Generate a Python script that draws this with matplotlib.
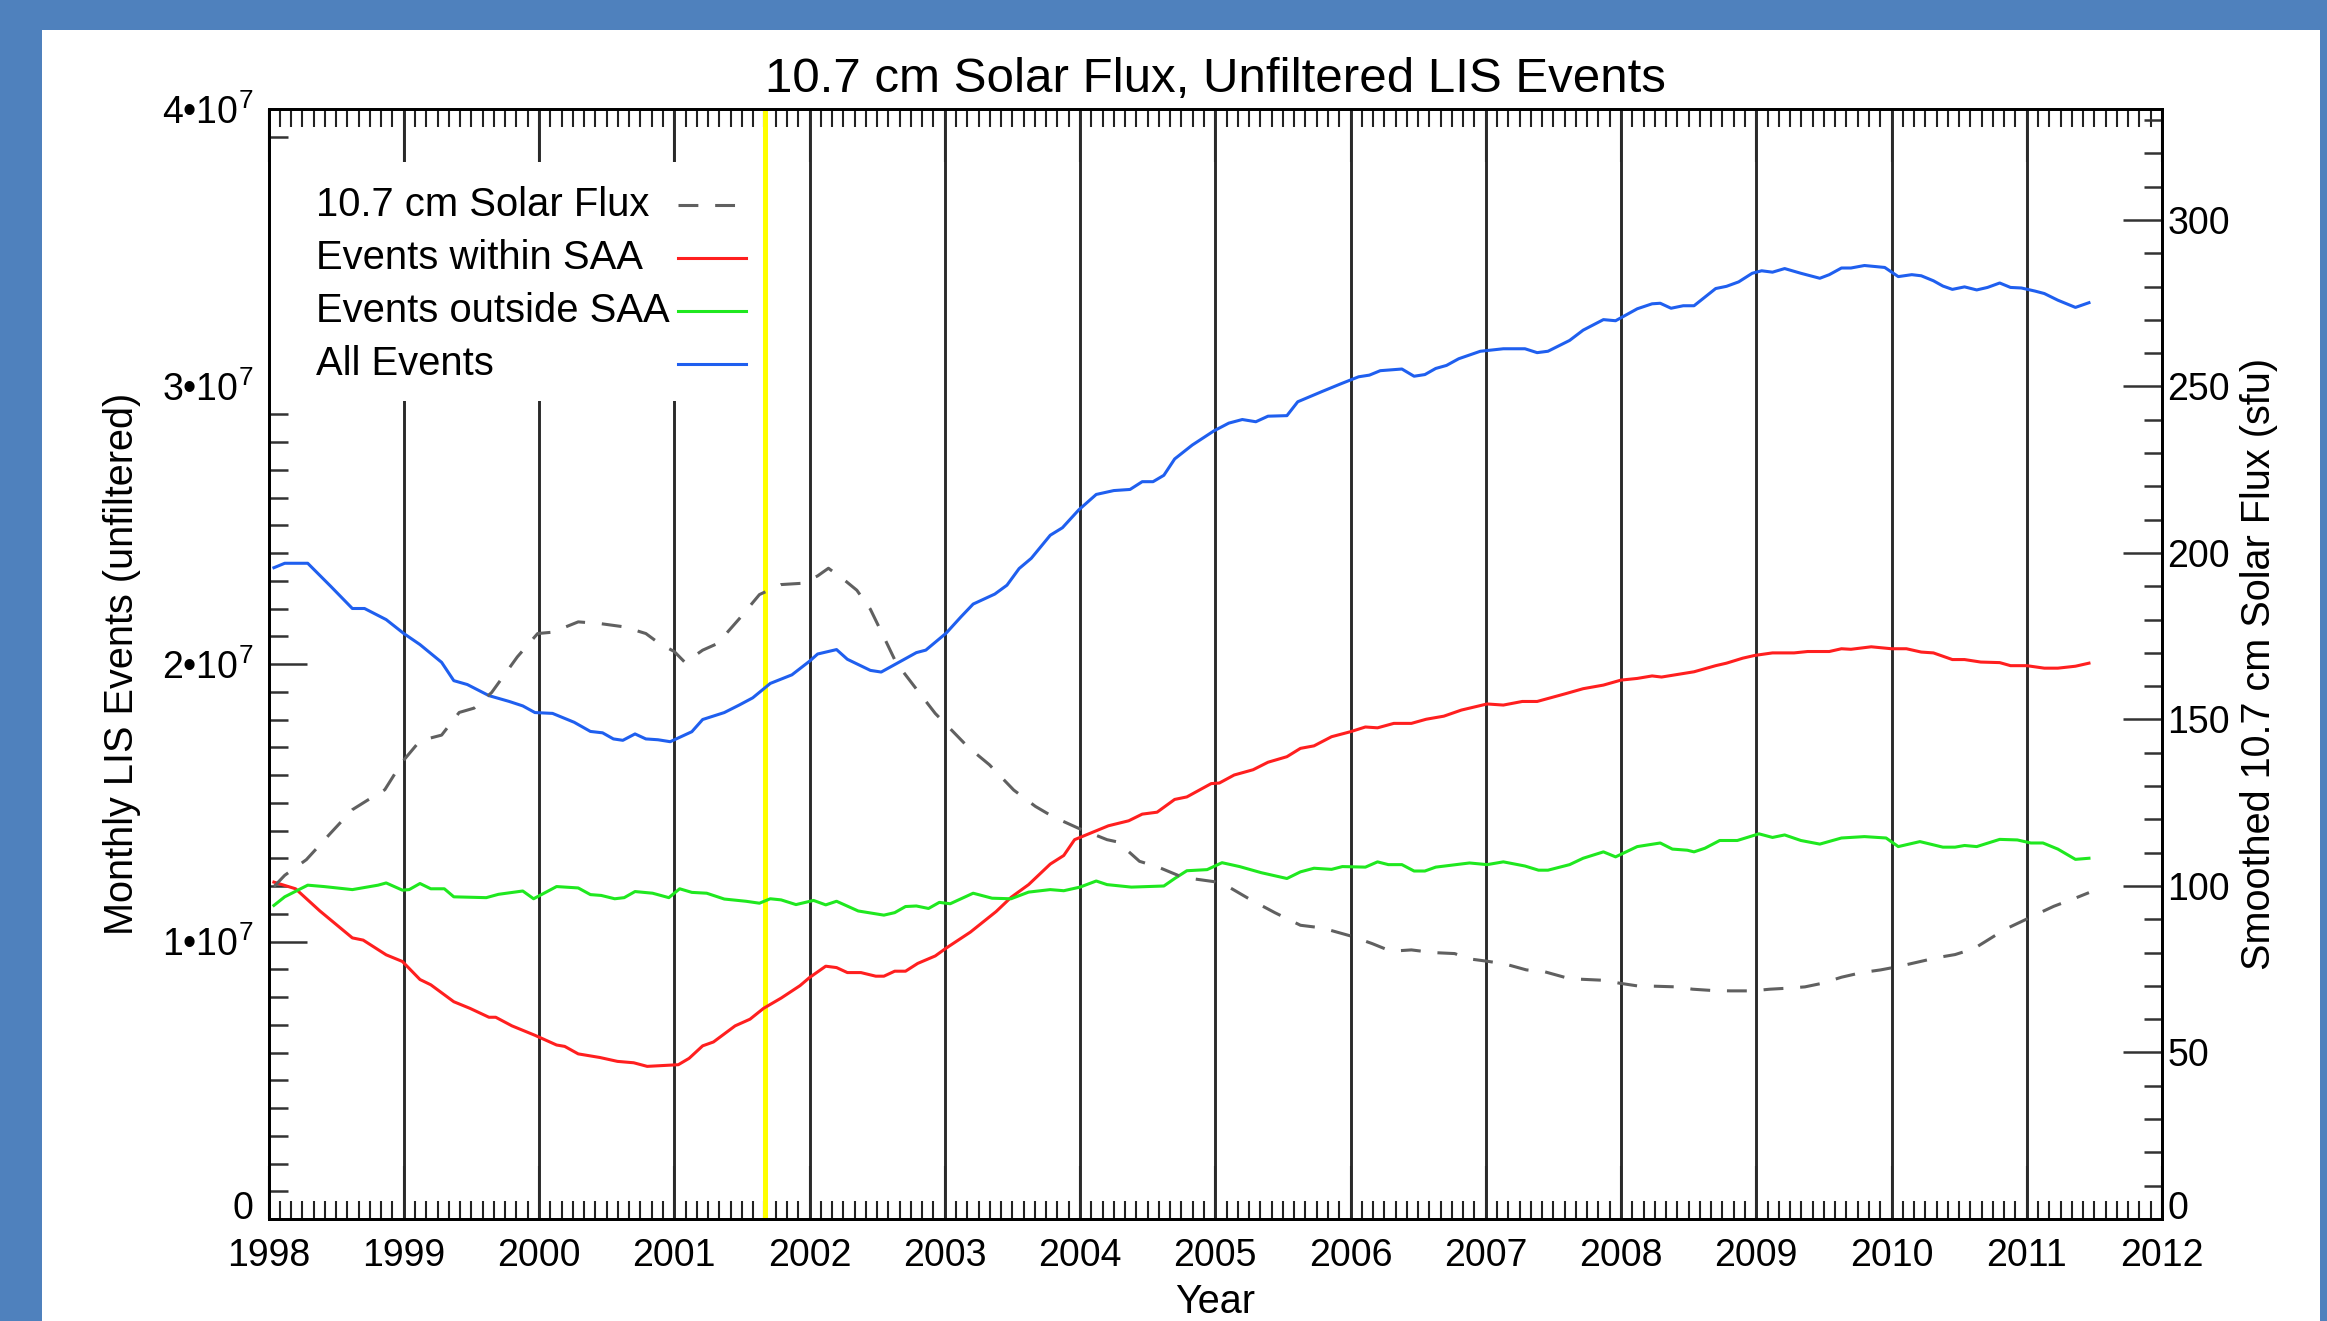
import matplotlib
matplotlib.use('Agg')
import matplotlib.pyplot as plt
import numpy as np
from matplotlib.patches import Rectangle
from matplotlib.lines import Line2D
from matplotlib.ticker import MultipleLocator, FuncFormatter

plt.rcParams['font.family'] = ['Liberation Sans', 'DejaVu Sans']
plt.rcParams['mathtext.fontset'] = 'custom'
plt.rcParams['mathtext.rm'] = 'Liberation Sans'
plt.rcParams['mathtext.it'] = 'Liberation Sans:italic'
plt.rcParams['mathtext.default'] = 'regular'

# ---- data (events in units of 1e7, flux in sfu) ----
blue_t = [1998.04, 1998.12, 1998.29, 1998.46, 1998.62, 1998.71, 1998.87, 1999.00, 1999.12, 1999.28,
          1999.37, 1999.47, 1999.63, 1999.78, 1999.88, 1999.97, 2000.10, 2000.26, 2000.38, 2000.47,
          2000.55, 2000.62, 2000.71, 2000.79, 2000.88, 2000.97, 2001.13, 2001.21, 2001.37, 2001.48,
          2001.58, 2001.71, 2001.87, 2002.00, 2002.06, 2002.20, 2002.28, 2002.45, 2002.53, 2002.69,
          2002.79, 2002.86, 2003.01, 2003.12, 2003.21, 2003.37, 2003.46, 2003.55, 2003.64, 2003.78,
          2003.87, 2003.99, 2004.12, 2004.25, 2004.37, 2004.46, 2004.54, 2004.62, 2004.70, 2004.83,
          2004.99, 2005.10, 2005.20, 2005.30, 2005.39, 2005.53, 2005.61, 2005.79, 2005.93, 2006.06,
          2006.14, 2006.22, 2006.38, 2006.47, 2006.55, 2006.63, 2006.71, 2006.80, 2006.96, 2007.13,
          2007.29, 2007.38, 2007.46, 2007.62, 2007.72, 2007.87, 2007.96, 2008.12, 2008.23, 2008.29,
          2008.37, 2008.46, 2008.54, 2008.70, 2008.78, 2008.87, 2008.97, 2009.04, 2009.12, 2009.21,
          2009.33, 2009.47, 2009.54, 2009.63, 2009.70, 2009.80, 2009.95, 2010.05, 2010.15, 2010.22,
          2010.31, 2010.38, 2010.45, 2010.54, 2010.63, 2010.71, 2010.80, 2010.88, 2010.96, 2011.06,
          2011.13, 2011.23, 2011.36, 2011.46]
blue_v = [2.347, 2.363, 2.363, 2.28, 2.20, 2.20, 2.16, 2.11, 2.07, 2.006,
          1.94, 1.926, 1.886, 1.865, 1.849, 1.825, 1.822, 1.79, 1.757, 1.752,
          1.73, 1.725, 1.748, 1.73, 1.727, 1.72, 1.756, 1.80, 1.825, 1.852,
          1.878, 1.93, 1.961, 2.01, 2.036, 2.052, 2.017, 1.977, 1.971, 2.014,
          2.041, 2.05, 2.111, 2.170, 2.216, 2.252, 2.284, 2.344, 2.381, 2.464,
          2.491, 2.555, 2.611, 2.625, 2.629, 2.657, 2.657, 2.680, 2.739, 2.789,
          2.84, 2.868, 2.881, 2.873, 2.893, 2.895, 2.945, 2.982, 3.010, 3.035,
          3.041, 3.057, 3.063, 3.037, 3.043, 3.065, 3.076, 3.100, 3.127, 3.136,
          3.136, 3.122, 3.127, 3.166, 3.203, 3.241, 3.237, 3.280, 3.298, 3.300,
          3.282, 3.291, 3.291, 3.353, 3.361, 3.377, 3.408, 3.417, 3.412, 3.425,
          3.408, 3.390, 3.403, 3.427, 3.427, 3.436, 3.429, 3.396, 3.403, 3.399,
          3.381, 3.362, 3.350, 3.359, 3.348, 3.357, 3.373, 3.357, 3.355, 3.344,
          3.335, 3.311, 3.285, 3.302]

red_t = [1998.04, 1998.20, 1998.38, 1998.62, 1998.70, 1998.87, 1998.99, 1999.12, 1999.20, 1999.37,
         1999.49, 1999.63, 1999.68, 1999.80, 1999.97, 2000.13, 2000.19, 2000.29, 2000.45, 2000.58,
         2000.70, 2000.80, 2001.03, 2001.11, 2001.21, 2001.29, 2001.45, 2001.56, 2001.66, 2001.79,
         2001.93, 2002.00, 2002.12, 2002.20, 2002.28, 2002.38, 2002.49, 2002.55, 2002.63, 2002.71,
         2002.80, 2002.93, 2003.01, 2003.19, 2003.38, 2003.49, 2003.62, 2003.78, 2003.88, 2003.96,
         2004.09, 2004.21, 2004.36, 2004.46, 2004.57, 2004.70, 2004.79, 2004.97, 2005.03, 2005.14,
         2005.28, 2005.39, 2005.53, 2005.63, 2005.73, 2005.86, 2006.00, 2006.11, 2006.20, 2006.32,
         2006.45, 2006.56, 2006.69, 2006.82, 2007.01, 2007.13, 2007.27, 2007.38, 2007.59, 2007.72,
         2007.87, 2008.00, 2008.12, 2008.23, 2008.30, 2008.54, 2008.70, 2008.78, 2008.90, 2008.99,
         2009.12, 2009.28, 2009.38, 2009.54, 2009.63, 2009.70, 2009.85, 2010.00, 2010.11, 2010.22,
         2010.31, 2010.45, 2010.54, 2010.66, 2010.80, 2010.88, 2011.00, 2011.13, 2011.23, 2011.36,
         2011.46]
red_v = [1.214, 1.19, 1.11, 1.013, 1.005, 0.952, 0.928, 0.863, 0.844, 0.783,
         0.759, 0.727, 0.727, 0.696, 0.662, 0.627, 0.622, 0.595, 0.582, 0.568,
         0.563, 0.55, 0.556, 0.579, 0.624, 0.638, 0.696, 0.72, 0.759, 0.796,
         0.841, 0.87, 0.911, 0.906, 0.888, 0.888, 0.875, 0.875, 0.893, 0.893,
         0.921, 0.948, 0.976, 1.034, 1.108, 1.159, 1.205, 1.279, 1.31, 1.367,
         1.393, 1.417, 1.435, 1.459, 1.466, 1.512, 1.521, 1.569, 1.571, 1.60,
         1.619, 1.646, 1.666, 1.696, 1.705, 1.738, 1.756, 1.773, 1.770, 1.786,
         1.786, 1.801, 1.812, 1.834, 1.856, 1.852, 1.865, 1.865, 1.893, 1.911,
         1.924, 1.942, 1.948, 1.957, 1.953, 1.972, 1.994, 2.003, 2.021, 2.031,
         2.040, 2.040, 2.045, 2.045, 2.055, 2.053, 2.062, 2.055, 2.055, 2.043,
         2.040, 2.016, 2.016, 2.007, 2.005, 1.994, 1.994, 1.985, 1.985, 1.992,
         2.003]

green_t = [1998.04, 1998.12, 1998.29, 1998.41, 1998.62, 1998.81, 1998.87, 1998.99, 1999.04, 1999.12,
           1999.20, 1999.30, 1999.37, 1999.61, 1999.70, 1999.88, 1999.96, 2000.13, 2000.29, 2000.38,
           2000.46, 2000.56, 2000.63, 2000.71, 2000.84, 2000.96, 2001.04, 2001.13, 2001.24, 2001.37,
           2001.53, 2001.63, 2001.71, 2001.79, 2001.90, 2002.03, 2002.12, 2002.20, 2002.36, 2002.55,
           2002.63, 2002.71, 2002.79, 2002.88, 2002.96, 2003.04, 2003.21, 2003.35, 2003.49, 2003.62,
           2003.78, 2003.88, 2004.00, 2004.12, 2004.20, 2004.38, 2004.62, 2004.70, 2004.79, 2004.94,
           2005.05, 2005.18, 2005.34, 2005.53, 2005.63, 2005.73, 2005.86, 2005.94, 2006.11, 2006.20,
           2006.28, 2006.38, 2006.47, 2006.55, 2006.63, 2006.88, 2007.01, 2007.13, 2007.29, 2007.39,
           2007.46, 2007.62, 2007.72, 2007.87, 2007.96, 2008.12, 2008.29, 2008.38, 2008.49, 2008.54,
           2008.62, 2008.73, 2008.86, 2009.02, 2009.12, 2009.21, 2009.33, 2009.47, 2009.63, 2009.80,
           2009.96, 2010.05, 2010.21, 2010.38, 2010.47, 2010.54, 2010.63, 2010.80, 2010.93, 2011.03,
           2011.12, 2011.23, 2011.36, 2011.46]
green_v = [1.130, 1.161, 1.203, 1.198, 1.187, 1.203, 1.211, 1.185, 1.187, 1.209,
           1.19, 1.19, 1.161, 1.158, 1.17, 1.182, 1.154, 1.198, 1.193, 1.169,
           1.166, 1.154, 1.158, 1.18, 1.174, 1.158, 1.19, 1.177, 1.174, 1.153,
           1.145, 1.138, 1.154, 1.15, 1.133, 1.148, 1.132, 1.145, 1.11, 1.095,
           1.104, 1.126, 1.128, 1.119, 1.141, 1.136, 1.174, 1.156, 1.154, 1.178,
           1.187, 1.183, 1.196, 1.218, 1.205, 1.196, 1.20, 1.227, 1.255, 1.259,
           1.284, 1.27, 1.248, 1.227, 1.251, 1.264, 1.26, 1.27, 1.268, 1.287,
           1.277, 1.277, 1.254, 1.254, 1.268, 1.283, 1.277, 1.287, 1.272, 1.257,
           1.257, 1.277, 1.300, 1.323, 1.305, 1.342, 1.355, 1.333, 1.329, 1.323,
           1.336, 1.364, 1.364, 1.388, 1.375, 1.384, 1.364, 1.351, 1.373, 1.378,
           1.373, 1.342, 1.360, 1.340, 1.340, 1.346, 1.342, 1.368, 1.366, 1.355,
           1.355, 1.333, 1.296, 1.300]

flux_t = [1998.04, 1998.12, 1998.28, 1998.46, 1998.62, 1998.73, 1998.86, 1998.99, 1999.12, 1999.28,
          1999.41, 1999.52, 1999.65, 1999.84, 1999.99, 2000.10, 2000.29, 2000.45, 2000.63, 2000.79,
          2000.89, 2001.00, 2001.08, 2001.21, 2001.32, 2001.48, 2001.63, 2001.79, 2001.95, 2002.06,
          2002.14, 2002.26, 2002.35, 2002.45, 2002.56, 2002.64, 2002.77, 2002.93, 2003.06, 2003.17,
          2003.33, 2003.51, 2003.67, 2003.80, 2003.99, 2004.20, 2004.28, 2004.44, 2004.57, 2004.73,
          2004.83, 2004.99, 2005.10, 2005.26, 2005.44, 2005.63, 2005.79, 2006.00, 2006.16, 2006.30,
          2006.45, 2006.61, 2006.77, 2006.88, 2007.01, 2007.14, 2007.30, 2007.43, 2007.59, 2007.70,
          2007.86, 2007.99, 2008.12, 2008.25, 2008.41, 2008.53, 2008.68, 2008.81, 2008.97, 2009.10,
          2009.23, 2009.36, 2009.49, 2009.63, 2009.78, 2009.92, 2010.05, 2010.19, 2010.34, 2010.47,
          2010.61, 2010.69, 2010.84, 2010.96, 2011.11, 2011.20, 2011.35, 2011.46]
flux_sfu = [99.8, 103.2, 107.9, 115.9, 122.9, 125.7, 128.9, 137.3, 143.6, 145.3,
            152.1, 153.4, 158.1, 168.8, 175.8, 176.2, 179.3, 178.8, 177.8, 175.8,
            172.8, 170.4, 167.1, 170.8, 172.8, 180.2, 187.5, 190.5, 190.9, 193.1,
            195.4, 191.8, 188.8, 183.1, 173.9, 167.1, 160.2, 151.8, 146.4, 141.8,
            136.4, 128.8, 123.9, 120.8, 117.3, 113.9, 113.2, 107.4, 105.8, 103.1,
            102.2, 101.3, 99.7, 95.9, 92.0, 88.2, 87.4, 85.0, 82.7, 80.4,
            80.8, 80.0, 79.7, 78.1, 77.4, 76.6, 74.8, 74.3, 72.5, 72.0,
            71.7, 70.8, 70.0, 69.9, 69.7, 69.0, 68.6, 68.5, 68.5, 69.0,
            69.3, 69.7, 70.8, 72.6, 74.0, 74.8, 75.8, 77.1, 78.5, 79.4,
            81.2, 83.2, 87.0, 89.3, 92.2, 93.9, 96.2, 98.0]

grid_years = list(range(1999, 2012))
boost_date = 2001.67
legend_labels = ['10.7 cm Solar Flux', 'Events within SAA', 'Events outside SAA', 'All Events']

W, H = 2327, 1321
fig = plt.figure(figsize=(W / 100, H / 100), dpi=100, facecolor='#4F81BD')
fig.add_artist(Rectangle((42 / W, 0), (2320 - 42) / W, (H - 30) / H,
                         transform=fig.transFigure, facecolor='white', edgecolor='none', zorder=0))

ax1 = fig.add_axes([268.5 / W, 1 - 1219 / H, (2162 - 268.5) / W, (1219 - 109) / H])
ax1.set_xlim(1998, 2012)
ax1.set_ylim(0, 4e7)

c_red, c_green, c_blue, c_flux = '#ff1f1f', '#1fe81f', '#1f5fef', '#606060'

# year grid lines + TRMM boost marker
for yr in grid_years:
    ax1.axvline(yr, color='#2a2a2a', lw=2.1, zorder=2.0)
ax1.axvline(boost_date, color='#ffff00', lw=3.6, zorder=2.2)

ax1.plot(red_t, np.array(red_v) * 1e7, color=c_red, lw=2.2, zorder=3)
ax1.plot(green_t, np.array(green_v) * 1e7, color=c_green, lw=2.2, zorder=3)
ax1.plot(blue_t, np.array(blue_v) * 1e7, color=c_blue, lw=2.2, zorder=3)

# ticks
ax1.xaxis.set_major_locator(MultipleLocator(1))
ax1.xaxis.set_minor_locator(MultipleLocator(1 / 12))
ax1.yaxis.set_major_locator(MultipleLocator(1e7))
ax1.yaxis.set_minor_locator(MultipleLocator(1e6))
ax1.yaxis.set_major_formatter(FuncFormatter(
    lambda v, p: '0' if v == 0 else f'{int(round(v / 1e7))}•10$^{{7}}$'))
ax1.tick_params(axis='x', which='both', direction='in', top=True, bottom=True, width=1.5,
                color='#222222', labelsize=27, pad=14)
ax1.tick_params(axis='x', which='major', length=38)
ax1.tick_params(axis='x', which='minor', length=13)
ax1.tick_params(axis='y', which='both', direction='in', left=True, right=False, width=1.8,
                color='#333333', labelsize=27, pad=11)
ax1.tick_params(axis='y', which='major', length=27)
ax1.tick_params(axis='y', which='minor', length=14)
for s in ax1.spines.values():
    s.set_linewidth(2.0)

ax1.set_xlabel('Year', fontsize=28.5, labelpad=6)
ax1.set_ylabel('Monthly LIS Events (unfiltered)', fontsize=28.5, labelpad=15)
ax1.set_title('10.7 cm Solar Flux, Unfiltered LIS Events', fontsize=35.5, pad=12)

# right axis: smoothed solar flux
ax2 = ax1.twinx()
ax2.set_ylim(0, 333.3)
ax2.plot(flux_t, flux_sfu, color=c_flux, lw=2.2, linestyle=(0, (6.5, 5.5)), zorder=3)
ax2.yaxis.set_major_locator(MultipleLocator(50))
ax2.yaxis.set_minor_locator(MultipleLocator(10))
ax2.tick_params(axis='y', which='both', direction='in', right=True, left=False, width=1.8,
                color='#333333', labelsize=27, pad=4)
ax2.tick_params(axis='y', which='major', length=28)
ax2.tick_params(axis='y', which='minor', length=13)
ax2.set_ylabel('Smoothed 10.7 cm Solar Flux (sfu)', fontsize=28.5, labelpad=7)
for s in ax2.spines.values():
    s.set_linewidth(2.0)

# the "0" labels sit on the axis line rather than centred on it
for ax in (ax1, ax2):
    for lab in ax.yaxis.get_majorticklabels():
        if lab.get_text() == '0':
            lab.set_verticalalignment('baseline')

# legend: text left, line sample right, on a white box hiding the grid lines
ax1.add_patch(Rectangle((0.0, 0.737), 0.258, 0.215, transform=ax1.transAxes,
                        facecolor='white', edgecolor='none', zorder=2.4))
leg_styles = [dict(color=c_flux, linestyle=(0, (6.5, 5.5))), dict(color=c_red),
              dict(color=c_green), dict(color=c_blue)]
leg_y = [0.9136, 0.8659, 0.8182, 0.7705]
for lab, st, yy in zip(legend_labels, leg_styles, leg_y):
    ax1.text(0.025, yy, lab, transform=ax1.transAxes, fontsize=28.8, va='center', ha='left', zorder=4)
    ax1.add_line(Line2D([0.2165, 0.2523], [yy, yy], transform=ax1.transAxes, lw=2.2, zorder=4, **st))

fig.savefig('out.png', dpi=100, facecolor=fig.get_facecolor())
